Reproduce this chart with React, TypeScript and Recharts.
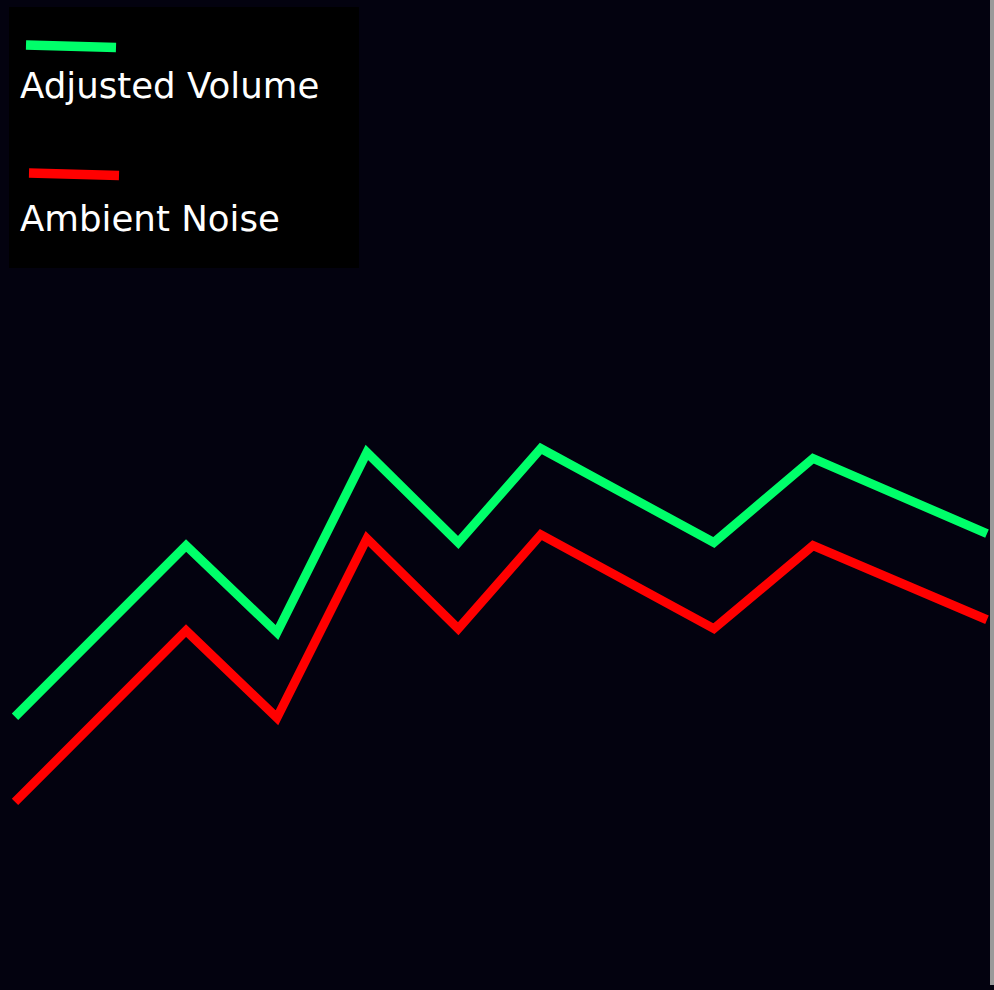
import { LineChart, Line, XAxis, YAxis } from 'recharts';

// x positions (relative units across the plot) and the two series
const steps = [0, 17.6, 26.95, 36.2, 45.6, 54.1, 71.9, 82.1, 100];
const adjustedVolume = [27.6, 44.9, 36.1, 54.3, 45.2, 54.7, 45.2, 53.7, 46.1];
const ambientNoise = [19.0, 36.3, 27.5, 45.6, 36.5, 46.0, 36.5, 44.9, 37.4];

const seriesNames = ['Adjusted Volume', 'Ambient Noise'];
const seriesColors = ['#00ff6a', '#ff0000'];

const data = steps.map((t, i) => ({
  t,
  volume: adjustedVolume[i],
  noise: ambientNoise[i],
}));

function LegendBox() {
  return (
    <div style={{ position: 'absolute', left: 9, top: 7, width: 350, height: 261, background: '#000' }}>
      <svg width={350} height={261}>
        {seriesNames.map((name, i) => (
          <g key={name}>
            <line
              x1={17 + i * 3}
              y1={38 + i * 128}
              x2={107 + i * 3}
              y2={40.5 + i * 128}
              stroke={seriesColors[i]}
              strokeWidth={9.5}
            />
            <text
              x={11}
              y={91 + i * 133}
              fill="#fff"
              fontSize={35.6}
              fontFamily="DejaVu Sans, Verdana, sans-serif"
            >
              {name}
            </text>
          </g>
        ))}
      </svg>
    </div>
  );
}

export default function App() {
  return (
    <div style={{ position: 'absolute', left: 0, top: 0, width: 994, height: 990, background: '#03020f', overflow: 'hidden' }}>
      <LineChart width={994} height={990} data={data} margin={{ top: 0, right: 7, bottom: 0, left: 15 }}>
        <XAxis dataKey="t" type="number" domain={[0, 100]} hide />
        <YAxis type="number" domain={[0, 100]} hide />
        <Line type="linear" dataKey="volume" name={seriesNames[0]} stroke={seriesColors[0]} strokeWidth={9} dot={false} isAnimationActive={false} />
        <Line type="linear" dataKey="noise" name={seriesNames[1]} stroke={seriesColors[1]} strokeWidth={9} dot={false} isAnimationActive={false} />
      </LineChart>
      <LegendBox />
      <div style={{ position: 'absolute', right: 0, top: 0, width: 4, height: 985, background: '#9a9a9a' }} />
    </div>
  );
}
